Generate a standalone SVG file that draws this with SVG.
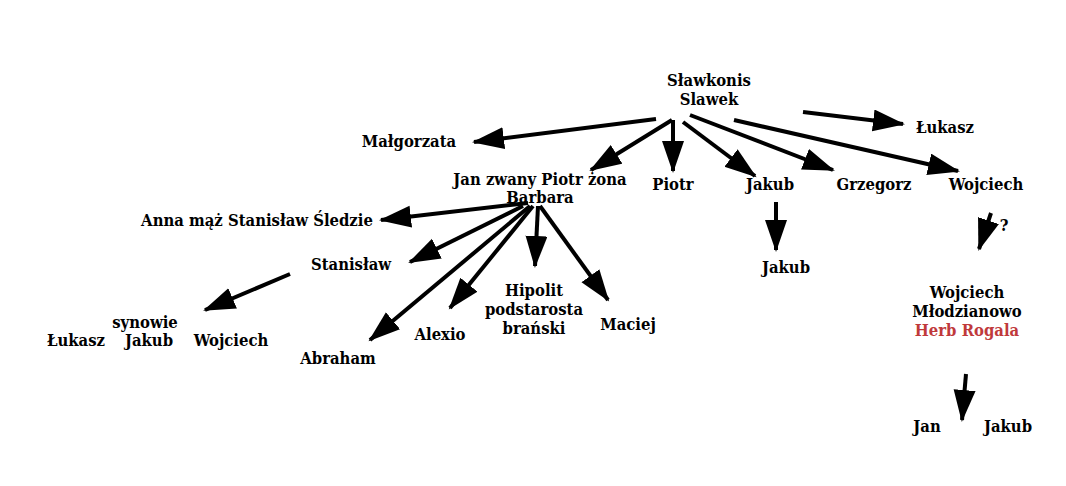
<svg xmlns="http://www.w3.org/2000/svg" width="1066" height="486" viewBox="0 0 1066 486">
<style>
text{font-family:"DejaVu Serif Condensed","DejaVu Serif","Liberation Serif",serif;font-weight:bold;font-size:16.5px;text-anchor:middle;fill:#000}
.red{fill:#c0393b}
#edges line{stroke:#000;stroke-width:4;marker-end:url(#ah)}
</style>
<defs>
<marker id="ah" markerUnits="userSpaceOnUse" markerWidth="34" markerHeight="24" refX="30" refY="11" orient="auto" viewBox="0 0 34 24">
<path d="M0,0 L32,11 L0,22 Z" fill="#000"/>
</marker>
</defs>
<rect width="1066" height="486" fill="#fff"/>
<g id="edges">
<line x1="656" y1="119" x2="474" y2="142"/>
<line x1="672" y1="120" x2="591" y2="170"/>
<line x1="673" y1="120" x2="673" y2="171"/>
<line x1="683" y1="122" x2="755" y2="176"/>
<line x1="690" y1="115" x2="833" y2="170"/>
<line x1="734" y1="120" x2="958" y2="171"/>
<line x1="803" y1="112" x2="903" y2="124"/>
<line x1="776" y1="202" x2="776" y2="250"/>
<line x1="991" y1="213" x2="979" y2="249"/>
<line x1="966" y1="374" x2="962" y2="420"/>
<line x1="528" y1="203" x2="381" y2="220"/>
<line x1="523" y1="206" x2="410" y2="262"/>
<line x1="530" y1="206" x2="370" y2="340"/>
<line x1="533" y1="206" x2="450" y2="308"/>
<line x1="538" y1="206" x2="535" y2="266"/>
<line x1="540" y1="206" x2="608" y2="300"/>
<line x1="290" y1="274" x2="205" y2="310"/>
</g>
<g id="n-slawkonis"><text x="709" y="86">Sławkonis</text><text x="709" y="105">Slawek</text></g>
<g id="n-malgorzata"><text x="409" y="147">Małgorzata</text></g>
<g id="n-jan"><text x="540" y="185">Jan zwany Piotr żona</text><text x="540" y="203">Barbara</text></g>
<g id="n-piotr"><text x="673" y="190">Piotr</text></g>
<g id="n-jakub1"><text x="770" y="190">Jakub</text></g>
<g id="n-grzegorz"><text x="874" y="190">Grzegorz</text></g>
<g id="n-wojciech1"><text x="986" y="190">Wojciech</text></g>
<g id="n-lukasz1"><text x="945" y="133">Łukasz</text></g>
<g id="n-jakub2"><text x="786" y="273">Jakub</text></g>
<g id="n-q"><text x="1004" y="231">?</text></g>
<g id="n-wojciech2"><text x="967" y="298">Wojciech</text><text x="967" y="317">Młodzianowo</text><text x="967" y="336" class="red">Herb Rogala</text></g>
<g id="n-jan2"><text x="927" y="432">Jan</text></g>
<g id="n-jakub3"><text x="1008" y="432">Jakub</text></g>
<g id="n-anna"><text x="257" y="226">Anna mąż Stanisław Śledzie</text></g>
<g id="n-stanislaw"><text x="351" y="270">Stanisław</text></g>
<g id="n-synowie"><text x="145" y="328">synowie</text></g>
<g id="n-lukasz2"><text x="76" y="346">Łukasz</text></g>
<g id="n-jakub4"><text x="149" y="346">Jakub</text></g>
<g id="n-wojciech3"><text x="231" y="346">Wojciech</text></g>
<g id="n-abraham"><text x="338" y="364">Abraham</text></g>
<g id="n-alexio"><text x="440" y="340">Alexio</text></g>
<g id="n-hipolit"><text x="534" y="296">Hipolit</text><text x="534" y="315">podstarosta</text><text x="534" y="334">brański</text></g>
<g id="n-maciej"><text x="628" y="330">Maciej</text></g>
</svg>
